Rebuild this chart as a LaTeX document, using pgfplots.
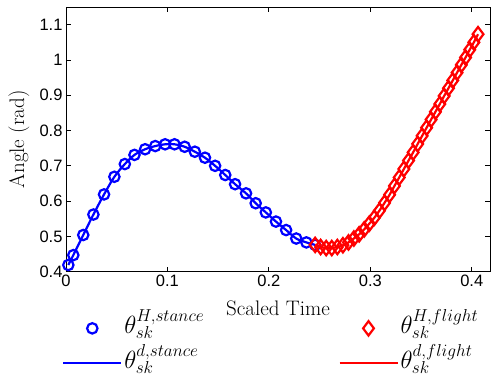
\documentclass[border=0pt]{standalone}
\usepackage{pgfplots}
\pgfplotsset{compat=1.18}
\usepackage{pgfplotstable}
\usepackage{fontspec}
\newfontfamily\tickfont{Liberation Sans}
\pgfplotstableread{
x y
0.0023 0.419
0.0072 0.447
0.0170 0.504
0.0270 0.562
0.0375 0.619
0.0477 0.669
0.0580 0.705
0.0675 0.731
0.0780 0.747
0.0880 0.756
0.0977 0.761
0.1070 0.761
0.1170 0.754
0.1270 0.740
0.1370 0.723
0.1470 0.700
0.1570 0.674
0.1667 0.648
0.1775 0.622
0.1870 0.594
0.1970 0.568
0.2070 0.542
0.2170 0.518
0.2270 0.494
0.2370 0.483
0.2456 0.476
}\stance
\pgfplotstableread{
x y
0.2456 0.476
0.2510 0.470
0.2565 0.467
0.2620 0.467
0.2675 0.470
0.2730 0.475
0.2785 0.483
0.2838 0.494
0.2890 0.506
0.2940 0.520
0.2990 0.536
0.3040 0.553
0.3090 0.573
0.3140 0.595
0.3190 0.618
0.3238 0.643
0.3285 0.667
0.3331 0.691
0.3377 0.715
0.3422 0.738
0.3467 0.762
0.3511 0.785
0.3555 0.808
0.3599 0.831
0.3642 0.853
0.3685 0.875
0.3728 0.898
0.3771 0.920
0.3813 0.942
0.3855 0.964
0.3897 0.986
0.3939 1.007
0.3980 1.029
0.4021 1.050
0.4062 1.073
}\flight
\begin{document}
\begin{tikzpicture}
\begin{axis}[
  at={(0,0)}, anchor=south west,
  scale only axis, width=424pt, height=264.7pt,
  xmin=0, xmax=0.418, ymin=0.4, ymax=1.15,
  xtick={0,0.1,0.2,0.3,0.4},
  ytick={0.4,0.5,0.6,0.7,0.8,0.9,1,1.1},
  tick pos=both, tick align=inside,
  major tick length=5pt,
  axis line style={line width=0.8pt},
  every tick/.style={line width=0.8pt, black},
  /pgf/number format/assume math mode=true,
  ticklabel style={font=\tickfont\fontsize{16.5}{18}\selectfont},
  xlabel={Scaled Time},
  ylabel={Angle (rad)},
  every axis x label/.style={at={(axis description cs:0.5,-0.137)}, anchor=center, font=\fontsize{21}{24}\selectfont},
  every axis y label/.style={at={(axis description cs:-0.111,0.5)}, anchor=center, rotate=90, font=\fontsize{21}{24}\selectfont},
  legend columns=2,
  legend style={at={(axis description cs:-0.0094,-0.184)}, anchor=north west,
    draw=none, fill=none, inner sep=0pt, row sep=19.5pt,
    font=\fontsize{23}{26}\selectfont,
    nodes={inner xsep=2pt, inner ysep=0pt, text height=12.5pt, text depth=3pt, text width=212pt}},
  legend image code/.code={\draw[mark repeat=2,mark phase=2,#1] plot coordinates {(0pt,0pt) (29pt,0pt) (58pt,0pt)};},
]
\addplot[only marks, mark=o, blue, mark options={line width=2.2pt, mark size=5.2pt}] table {\stance};
\addlegendentry{$\theta_{sk}^{H,stance}$}
\addplot[only marks, mark=diamond, red, mark options={line width=2.2pt, mark size=7.2pt}] table {\flight};
\addlegendentry{$\theta_{sk}^{H,flight}$}
\addplot[blue, line width=2.2pt, smooth, mark=none] table {\stance};
\addlegendentry{$\theta_{sk}^{d,stance}$}
\addplot[red, line width=2.2pt, smooth, mark=none] table {\flight};
\addlegendentry{$\theta_{sk}^{d,flight}$}
\end{axis}
\pgfresetboundingbox
\path (-66pt,-112.3pt) rectangle (427pt,271.7pt);
\end{tikzpicture}
\end{document}
